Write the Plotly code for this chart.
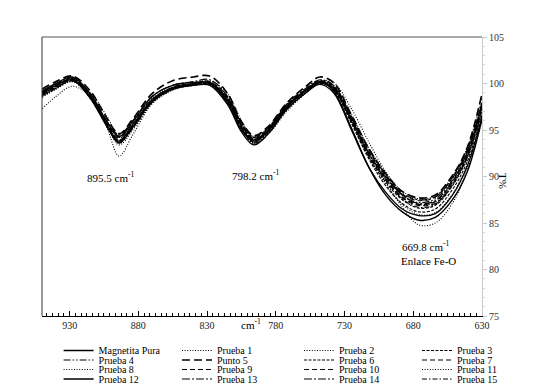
import plotly.graph_objects as go

# ---------------- data ----------------
wavenumber = [950, 940, 928, 915, 903, 894, 884, 870, 855, 840, 828, 815, 805, 796,
              786, 772, 758, 748, 738, 725, 712, 700, 688, 676, 664, 652, 641, 630]

magnetita_pura = [99.2, 100.0, 100.7, 98.9, 95.9, 94.3, 95.9, 98.6, 99.8, 100.1, 100.0, 97.9, 95.0, 93.8,
                  94.8, 97.4, 99.3, 100.2, 99.2, 95.2, 90.9, 88.0, 86.2, 85.3, 85.6, 87.4, 90.4, 96.2]
prueba_1 = [97.3, 98.6, 99.7, 98.6, 95.3, 92.2, 94.5, 97.8, 99.3, 99.8, 100.0, 98.4, 95.6, 93.6,
            94.6, 97.3, 99.0, 100.0, 99.6, 96.4, 92.5, 89.4, 86.7, 84.8, 85.0, 87.0, 90.6, 96.0]
prueba_2 = [98.6, 99.4, 100.2, 99.0, 96.5, 94.4, 95.2, 97.9, 99.4, 100.0, 100.3, 98.9, 96.0, 94.2,
            94.6, 97.0, 99.0, 100.2, 100.1, 97.3, 93.6, 90.5, 88.1, 87.0, 87.2, 89.2, 92.0, 97.5]
prueba_3 = [98.9, 99.7, 100.4, 98.5, 95.6, 93.8, 95.4, 98.1, 99.5, 99.9, 100.1, 98.3, 95.4, 93.9,
            95.0, 97.6, 99.3, 100.1, 99.4, 95.8, 92.0, 89.4, 87.5, 86.6, 86.9, 88.9, 91.9, 97.1]
prueba_4 = [99.0, 99.8, 100.5, 98.7, 95.7, 93.6, 95.2, 98.0, 99.4, 99.9, 100.0, 98.0, 95.1, 93.6,
            94.7, 97.3, 99.1, 100.0, 99.4, 96.0, 92.4, 90.0, 88.0, 87.2, 87.6, 89.5, 92.4, 97.8]
punto_5 = [99.4, 100.2, 100.8, 99.2, 96.3, 94.6, 96.2, 98.9, 100.3, 100.7, 100.8, 98.9, 95.9, 94.4,
           95.3, 97.9, 99.7, 100.7, 100.1, 96.6, 92.9, 90.3, 88.4, 87.7, 88.0, 90.0, 93.0, 98.9]
prueba_6 = [98.7, 99.5, 100.3, 98.4, 95.5, 93.7, 95.3, 98.0, 99.4, 99.8, 99.9, 98.1, 95.2, 93.7,
            94.8, 97.5, 99.2, 100.0, 99.3, 95.7, 91.8, 89.0, 87.1, 86.2, 86.5, 88.5, 91.5, 96.9]
prueba_7 = [98.9, 99.6, 100.3, 98.7, 95.9, 94.2, 95.7, 98.3, 99.6, 100.0, 100.2, 98.5, 95.6, 94.1,
            95.1, 97.7, 99.4, 100.3, 99.7, 96.3, 92.6, 90.1, 88.1, 87.4, 87.8, 89.8, 92.8, 98.0]
prueba_8 = [98.5, 99.4, 100.2, 98.5, 95.5, 93.4, 95.0, 97.9, 99.3, 99.8, 99.9, 98.2, 95.3, 93.5,
            94.5, 97.2, 99.1, 100.1, 99.6, 96.0, 92.0, 89.2, 87.0, 85.9, 86.1, 88.0, 91.2, 96.6]
prueba_9 = [99.1, 99.8, 100.5, 98.8, 95.8, 93.9, 95.5, 98.2, 99.6, 100.0, 100.1, 98.1, 95.2, 93.8,
            94.9, 97.5, 99.3, 100.2, 99.5, 96.1, 92.3, 89.8, 87.8, 87.0, 87.3, 89.3, 92.2, 97.6]
prueba_10 = [98.8, 99.6, 100.4, 98.6, 95.7, 94.1, 95.6, 98.3, 99.5, 99.9, 100.0, 98.2, 95.5, 94.0,
             95.0, 97.6, 99.2, 100.1, 99.4, 95.9, 92.1, 89.6, 87.7, 86.9, 87.1, 89.0, 92.0, 97.4]
prueba_11 = [98.6, 99.5, 100.3, 98.7, 95.9, 94.3, 95.8, 98.4, 99.6, 100.0, 100.2, 98.6, 95.8, 94.3,
             95.2, 97.7, 99.3, 100.2, 99.8, 96.7, 93.0, 90.4, 88.4, 87.6, 87.9, 89.9, 93.0, 98.6]
prueba_12 = [99.0, 99.8, 100.4, 98.4, 95.4, 93.6, 95.3, 98.1, 99.4, 99.8, 99.8, 97.7, 94.8, 93.4,
             94.5, 97.2, 99.0, 99.9, 99.0, 95.0, 90.9, 88.3, 86.5, 85.8, 86.0, 87.9, 91.0, 96.5]
prueba_13 = [99.1, 99.9, 100.6, 98.9, 96.0, 94.5, 96.0, 98.6, 99.8, 100.2, 100.4, 98.6, 95.7, 94.2,
             95.2, 97.8, 99.5, 100.4, 99.8, 96.4, 92.8, 90.2, 88.2, 87.5, 87.8, 89.7, 92.7, 97.9]
prueba_14 = [98.9, 99.7, 100.5, 98.6, 95.6, 93.8, 95.4, 98.1, 99.5, 100.0, 100.1, 98.3, 95.4, 93.9,
             94.9, 97.5, 99.3, 100.2, 99.6, 96.2, 92.4, 89.9, 88.0, 87.1, 87.4, 89.4, 92.5, 97.7]
prueba_15 = [98.7, 99.5, 100.3, 98.5, 95.6, 93.9, 95.5, 98.1, 99.4, 99.9, 100.0, 98.4, 95.6, 94.0,
             95.0, 97.6, 99.3, 100.1, 99.5, 96.1, 92.3, 89.7, 87.6, 86.7, 87.0, 89.1, 92.1, 97.5]

series_names = ["Magnetita Pura", "Prueba 1", "Prueba 2", "Prueba 3",
                "Prueba 4", "Punto 5", "Prueba 6", "Prueba 7",
                "Prueba 8", "Prueba 9", "Prueba 10", "Prueba 11",
                "Prueba 12", "Prueba 13", "Prueba 14", "Prueba 15"]
series_values = [magnetita_pura, prueba_1, prueba_2, prueba_3,
                 prueba_4, punto_5, prueba_6, prueba_7,
                 prueba_8, prueba_9, prueba_10, prueba_11,
                 prueba_12, prueba_13, prueba_14, prueba_15]

x_tick_values = [930, 880, 830, 780, 730, 680, 630]
y_tick_values = [75, 80, 85, 90, 95, 100, 105]

peak_labels = ["895.5 cm<sup>-1</sup>", "798.2 cm<sup>-1</sup>", "669.8 cm<sup>-1</sup>", "Enlace Fe-O"]
peak_label_x = [899.7, 794.2, 670.5, 669.0]
peak_label_y = [90.0, 90.2, 82.5, 80.9]

# ---------------- styles ----------------
DOT = "1px,1.6px"
SHORT = "3px,1.5px"
MED = "5px,3px"
styles = {
    "Magnetita Pura": ("solid", 1.4),
    "Prueba 1": (DOT, 1.1),
    "Prueba 2": (DOT, 1.1),
    "Prueba 3": (SHORT, 1.1),
    "Prueba 4": ("7px,2px,1.5px,2px,1.5px,2px", 1.1),
    "Punto 5": ("8px,4px", 1.7),
    "Prueba 6": (SHORT, 1.1),
    "Prueba 7": (MED, 1.1),
    "Prueba 8": (DOT, 1.1),
    "Prueba 9": (MED, 1.2),
    "Prueba 10": (MED, 1.2),
    "Prueba 11": (DOT, 1.1),
    "Prueba 12": ("solid", 1.3),
    "Prueba 13": ("8px,2px,2px,2px", 1.2),
    "Prueba 14": ("8px,2px,2px,2px", 1.2),
    "Prueba 15": ("5px,2px,1.5px,2px", 1.1),
}

FONT = "Times New Roman, Liberation Serif, serif"
W, H = 552, 388
ML, MR, MT, MB = 42, 70, 37, 72
PW = W - ML - MR
PH = H - MT - MB

# one legend box per entry, laid out as a 4 x 4 grid below the plot
col_px = [58.6, 177, 299, 417]
row_py = [350.5, 360, 369.5, 379]
legend_ids = ["legend"] + ["legend%d" % k for k in range(2, 17)]

fig = go.Figure()
for i, (name, vals) in enumerate(zip(series_names, series_values)):
    dash, width = styles[name]
    fig.add_trace(go.Scatter(
        x=wavenumber, y=vals, mode="lines", name=name,
        line=dict(color="black", width=width, dash=dash, shape="spline", smoothing=1.0),
        legend=legend_ids[i],
        hoverinfo="skip",
    ))

for txt, lx, ly in zip(peak_labels, peak_label_x, peak_label_y):
    fig.add_annotation(x=lx, y=ly, xref="x", yref="y", text=txt, showarrow=False,
                       font=dict(family=FONT, size=11, color="black"))

# axis titles placed like the original
fig.add_annotation(x=(251 - ML) / PW, y=(H - MB - 333) / PH, xref="paper", yref="paper",
                   text="cm<sup>-1</sup>", showarrow=False,
                   font=dict(family=FONT, size=11, color="black"))
fig.add_annotation(x=(511 - ML) / PW, y=(H - MB - 181) / PH, xref="paper", yref="paper",
                   text="T%", textangle=90, showarrow=False,
                   font=dict(family=FONT, size=11, color="black"))

legend_layout = {}
for i, lid in enumerate(legend_ids):
    r, c = divmod(i, 4)
    legend_layout[lid] = dict(
        orientation="h", xref="container", x=col_px[c] / W, xanchor="left",
        yref="container", y=(H - row_py[r]) / H, yanchor="middle",
        font=dict(family=FONT, size=10, color="black"),
        bgcolor="rgba(0,0,0,0)", borderwidth=0, itemwidth=30,
    )

fig.update_layout(
    width=W, height=H,
    margin=dict(l=ML, r=MR, t=MT, b=MB, autoexpand=False),
    paper_bgcolor="white", plot_bgcolor="white",
    font=dict(family=FONT, size=10, color="black"),
    showlegend=True,
    **legend_layout,
    xaxis=dict(
        range=[950.1, 630], tickvals=x_tick_values, ticktext=[str(v) for v in x_tick_values],
        showgrid=False, zeroline=False, showline=True, linecolor="black", linewidth=1,
        ticks="inside", ticklen=5, tickcolor="black", tickwidth=1,
        minor=dict(dtick=50 / 12, tick0=630, ticks="inside", ticklen=3, tickcolor="black", tickwidth=1),
        tickfont=dict(family=FONT, size=10, color="#222"),
    ),
    yaxis=dict(
        range=[75, 105], side="right", tickvals=y_tick_values,
        showgrid=False, zeroline=False, showline=True, linecolor="#c8c8c8", linewidth=1,
        ticks="outside", ticklen=4, tickcolor="#c8c8c8",
        minor=dict(dtick=1, ticks="outside", ticklen=2, tickcolor="#d8d8d8"),
        tickfont=dict(family=FONT, size=10, color="#333"),
    ),
    shapes=[
        dict(type="line", xref="paper", yref="paper", x0=0, x1=1, y0=1, y1=1,
             line=dict(color="#8c8c8c", width=1.5)),
        dict(type="line", xref="paper", yref="paper", x0=0, x1=0, y0=0, y1=1,
             line=dict(color="#333333", width=1)),
    ],
)

# remove the browser's default 8px page margin so the figure sits at the window origin
fig.write_html("out.html", config={"displayModeBar": False},
               post_script="document.body.style.margin='0';")
